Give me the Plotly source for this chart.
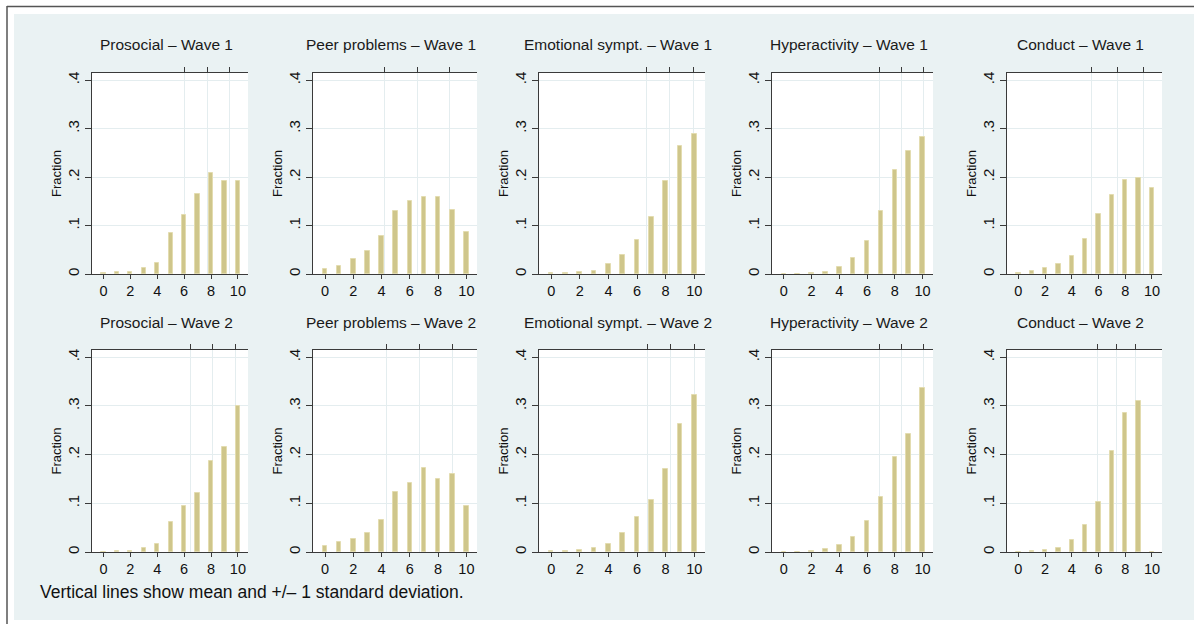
import plotly.graph_objects as go

# ---------------- data ----------------
scores = [0, 1, 2, 3, 4, 5, 6, 7, 8, 9, 10]

titles = [
    "Prosocial – Wave 1", "Peer problems – Wave 1", "Emotional sympt. – Wave 1",
    "Hyperactivity – Wave 1", "Conduct – Wave 1",
    "Prosocial – Wave 2", "Peer problems – Wave 2", "Emotional sympt. – Wave 2",
    "Hyperactivity – Wave 2", "Conduct – Wave 2",
]

prosocial_w1 = [0.002, 0.004, 0.004, 0.012, 0.022, 0.084, 0.122, 0.166, 0.208, 0.191, 0.193]
peer_w1      = [0.010, 0.017, 0.031, 0.048, 0.079, 0.131, 0.151, 0.160, 0.160, 0.132, 0.087]
emotional_w1 = [0.002, 0.002, 0.004, 0.007, 0.020, 0.039, 0.070, 0.117, 0.191, 0.264, 0.290]
hyper_w1     = [0.001, 0.001, 0.002, 0.005, 0.014, 0.033, 0.069, 0.131, 0.214, 0.253, 0.283]
conduct_w1   = [0.002, 0.006, 0.013, 0.021, 0.038, 0.073, 0.123, 0.163, 0.194, 0.198, 0.177]
prosocial_w2 = [0.001, 0.002, 0.002, 0.008, 0.016, 0.061, 0.094, 0.121, 0.186, 0.216, 0.299]
peer_w2      = [0.012, 0.020, 0.027, 0.039, 0.066, 0.124, 0.142, 0.173, 0.150, 0.161, 0.095]
emotional_w2 = [0.002, 0.002, 0.005, 0.008, 0.016, 0.039, 0.072, 0.107, 0.171, 0.262, 0.323]
hyper_w2     = [0.001, 0.001, 0.002, 0.006, 0.014, 0.031, 0.064, 0.113, 0.196, 0.242, 0.336]
conduct_w2   = [0.001, 0.002, 0.005, 0.009, 0.024, 0.055, 0.102, 0.208, 0.286, 0.311, 0.0]

series = [prosocial_w1, peer_w1, emotional_w1, hyper_w1, conduct_w1,
          prosocial_w2, peer_w2, emotional_w2, hyper_w2, conduct_w2]

means = [7.72, 6.52, 8.30, 8.48, 7.40, 8.12, 6.68, 8.35, 8.48, 7.33]
sds   = [1.66, 2.28, 1.64, 1.58, 1.93, 1.67, 2.32, 1.65, 1.58, 1.43]

x_ticks = [0, 2, 4, 6, 8, 10]
y_ticks = [0, 0.1, 0.2, 0.3, 0.4]
y_ticktext = ["0", ".1", ".2", ".3", ".4"]
footer = "Vertical lines show mean and +/– 1 standard deviation."

# ---------------- layout geometry ----------------
W, H = 1194, 624
col_px = [(92, 248), (313, 477), (539, 705), (772, 933), (1007, 1162)]
row_px = [(73, 274), (350, 552)]
title_y = [45, 322]

def fx(x):
    return x / W

def fy(y):
    return 1 - y / H

BG = "#eaf2f3"
GRID = "#e4edef"
AXC = "#3a3a3a"
BARC = "#cfc68b"
BAREDGE = "#e3dcb0"
FONT = "Liberation Sans, Arial, sans-serif"

fig = go.Figure()
layout = {}
annotations = []

for i in range(10):
    r, c = divmod(i, 5)
    l, rr = col_px[c]
    t, b = row_px[r]
    xd = [fx(l), fx(rr)]
    yd = [fy(b), fy(t)]
    xb, xt, ya = f"x{i+1}", f"x{i+11}", f"y{i+1}"

    fig.add_trace(go.Bar(
        x=scores, y=series[i], width=0.32, xaxis=xb, yaxis=ya,
        marker=dict(color=BARC, line=dict(color=BAREDGE, width=1)),
        hoverinfo="x+y", showlegend=False,
    ))
    m, s = means[i], sds[i]
    lines = [m - s, m, m + s]
    fig.add_trace(go.Scatter(
        x=lines, y=[0, 0, 0], xaxis=xt, yaxis=ya, mode="markers",
        marker=dict(opacity=0), hoverinfo="skip", showlegend=False,
    ))

    layout[f"xaxis{i+1}"] = dict(
        domain=xd, anchor=ya, range=[-0.85, 10.75], tickvals=x_ticks,
        ticks="outside", ticklen=4, tickcolor=AXC, showline=True, linecolor=AXC,
        linewidth=1, showgrid=False, zeroline=False, fixedrange=True,
        tickfont=dict(family=FONT, size=14.5, color="#111"),
    )
    layout[f"xaxis{i+11}"] = dict(
        overlaying=xb, side="top", anchor=ya, range=[-0.85, 10.75],
        tickvals=lines, showticklabels=False, ticks="outside", ticklen=5,
        tickcolor=AXC, showline=True, linecolor=AXC, linewidth=1,
        showgrid=True, gridcolor=GRID, gridwidth=1, zeroline=False, fixedrange=True,
    )
    layout[f"yaxis{i+1}"] = dict(
        domain=yd, anchor=xb, range=[0, 0.415], tickvals=y_ticks,
        ticktext=y_ticktext, tickangle=-90, ticks="outside", ticklen=6,
        tickcolor=AXC, showline=True, linecolor=AXC, linewidth=1,
        showgrid=True, gridcolor=GRID, gridwidth=1, zeroline=False, fixedrange=True,
        tickfont=dict(family=FONT, size=15, color="#111"),
        title=dict(text="Fraction", standoff=0,
                   font=dict(family=FONT, size=13, color="#111")),
        automargin=False,
    )
    annotations.append(dict(
        text=titles[i], x=fx((l + rr) / 2 - 4), y=fy(title_y[r]), xref="paper", yref="paper",
        xanchor="center", yanchor="middle", showarrow=False,
        font=dict(family=FONT, size=15.5, color="#1a1a1a"),
    ))

annotations.append(dict(
    text=footer, x=fx(38), y=fy(592), xref="paper", yref="paper",
    xanchor="left", yanchor="middle", showarrow=False,
    font=dict(family=FONT, size=17.5, color="#111"),
))

shapes = [
    # white outer margins
    dict(type="rect", xref="paper", yref="paper", x0=0, x1=fx(14), y0=0, y1=1,
         fillcolor="white", line=dict(width=0), layer="above"),
    dict(type="rect", xref="paper", yref="paper", x0=0, x1=1, y0=fy(14), y1=1,
         fillcolor="white", line=dict(width=0), layer="above"),
    dict(type="rect", xref="paper", yref="paper", x0=0, x1=1, y0=0, y1=fy(620),
         fillcolor="white", line=dict(width=0), layer="above"),
    # frame lines
    dict(type="line", xref="paper", yref="paper", x0=fx(7), x1=fx(7), y0=0, y1=fy(6),
         line=dict(color="#555", width=1.5), layer="above"),
    dict(type="line", xref="paper", yref="paper", x0=fx(7), x1=1, y0=fy(6.5), y1=fy(6.5),
         line=dict(color="#555", width=1.5), layer="above"),
]

fig.update_layout(
    width=W, height=H, margin=dict(l=0, r=0, t=0, b=0),
    paper_bgcolor=BG, plot_bgcolor="white", showlegend=False,
    bargap=0, annotations=annotations, shapes=shapes,
    font=dict(family=FONT), **layout,
)

fig.write_html("out.html")
